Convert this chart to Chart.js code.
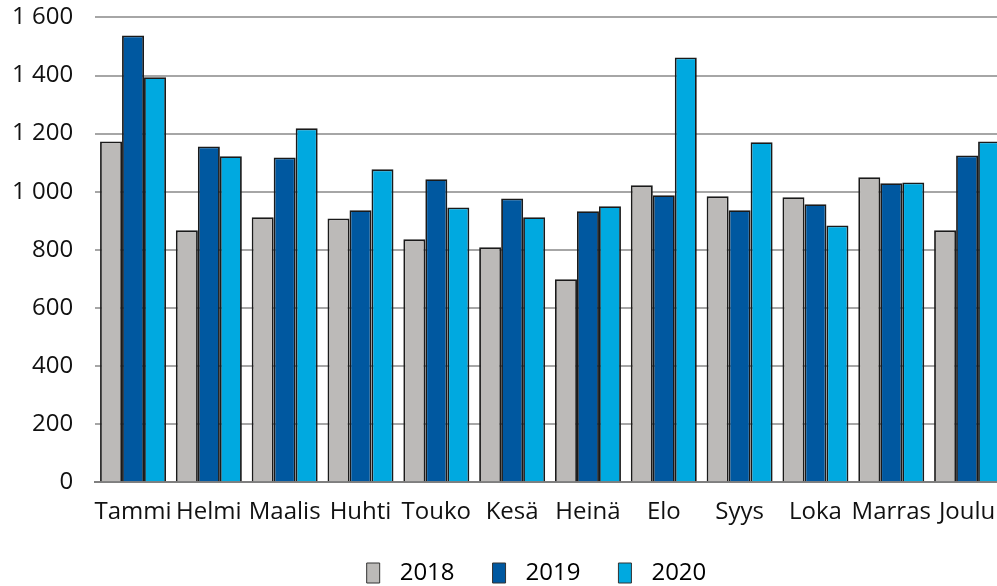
<!DOCTYPE html>
<html>
<head>
<meta charset="utf-8">
<script src="https://cdn.jsdelivr.net/npm/chart.js@4/dist/chart.umd.min.js"></script>
<style>
html,body{margin:0;padding:0;background:#fff;overflow:hidden;width:997px;height:586px;position:relative;}
#wrap{position:absolute;left:-10px;top:-19px;width:1095px;height:614px;}
</style>
</head>
<body>
<div id="wrap"><canvas id="c" width="1095" height="614"></canvas></div>
<script>
const months = ["Tammi","Helmi","Maalis","Huhti","Touko","Kesä","Heinä","Elo","Syys","Loka","Marras","Joulu"];
const years = ["2018","2019","2020"];
const v2018 = [1173, 867, 912, 908, 836, 809, 699, 1022, 984, 981, 1050, 867];
const v2019 = [1538, 1156, 1118, 936, 1043, 977, 933, 988, 936, 957, 1029, 1125];
const v2020 = [1394, 1122, 1218, 1077, 946, 912, 950, 1462, 1170, 884, 1032, 1173];
const yTicks = [0, 200, 400, 600, 800, 1000, 1200, 1400, 1600];

const colors = ["#bcbab8", "#0058a0", "#00a9e0"];
const font = "'Open Sans', sans-serif";

const legendShift = {
  id: 'legendShift',
  afterLayout(chart) {
    const lg = chart.legend;
    if (lg) { lg.left += 39; lg.right += 39; }
  }
};

new Chart(document.getElementById('c'), {
  type: 'bar',
  data: {
    labels: months,
    datasets: [v2018, v2019, v2020].map((d, i) => ({
      label: years[i],
      data: d,
      backgroundColor: colors[i],
      borderColor: "#1a1a1a",
      borderWidth: 1.8,
      borderSkipped: 'bottom',
      barPercentage: 1.0,
      categoryPercentage: 0.87
    }))
  },
  plugins: [legendShift],
  options: {
    responsive: false,
    animation: false,
    devicePixelRatio: 1,
    layout: { padding: { top: 0, right: 80, left: 0, bottom: 0 } },
    plugins: {
      tooltip: { enabled: false },
      legend: {
        position: 'bottom',
        labels: {
          font: { family: font, size: 24 },
          color: "#111",
          boxWidth: 13,
          boxHeight: 20,
          padding: 18,
          generateLabels(chart) {
            const n = chart.data.datasets.length;
            return chart.data.datasets.map((ds, i) => ({
              text: "\u2004" + ds.label + (i < n - 1 ? "\u2002\u2004" : ""),
              fillStyle: ds.backgroundColor,
              strokeStyle: "#333",
              lineWidth: 1,
              datasetIndex: i,
              hidden: false
            }));
          }
        }
      }
    },
    scales: {
      x: {
        grid: { display: false, drawTicks: false },
        border: { display: true, color: "#7f7f7f", width: 2 },
        ticks: { font: { family: font, size: 24 }, color: "#111", padding: 16, maxRotation: 0, autoSkip: false }
      },
      y: {
        min: 0, max: 1600,
        afterBuildTicks(axis) { axis.ticks = yTicks.map(v => ({ value: v })); },
        grid: { color: "#a6a6a6", lineWidth: 2, drawTicks: false },
        border: { display: false },
        ticks: {
          font: { family: font, size: 24 }, color: "#111", padding: 22,
          callback: v => String(v).replace(/\B(?=(\d{3})+(?!\d))/g, " ")
        }
      }
    }
  }
});
</script>
</body>
</html>
